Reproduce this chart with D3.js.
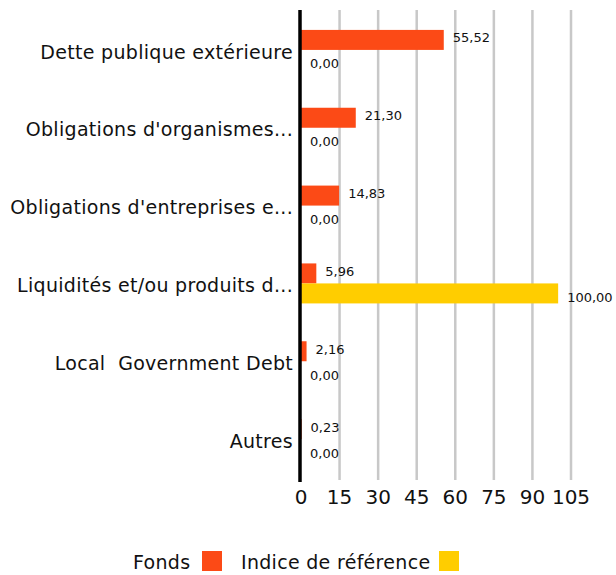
<!DOCTYPE html>
<html><head><meta charset="utf-8">
<script src="https://cdn.jsdelivr.net/npm/d3@7"></script>
<style>body{margin:0;background:#fff;} text{font-family:"DejaVu Sans",sans-serif;fill:#111;white-space:pre;}</style>
</head><body><svg id="c" width="616" height="575"></svg>
<script>
const categories = ["Dette publique extérieure","Obligations d'organismes...","Obligations d'entreprises e...","Liquidités et/ou produits d...","Local  Government Debt","Autres"];
const fonds = [55.52, 21.30, 14.83, 5.96, 2.16, 0.23];
const indice = [0.00, 0.00, 0.00, 100.00, 0.00, 0.00];
const ticks = [0,15,30,45,60,75,90,105];
const seriesNames = ["Fonds","Indice de référence"];
const colors = ["#fc4a16","#ffcd00"];

const svg = d3.select("#c");
const x = d3.scaleLinear().domain([0,105]).range([301,571]);
const y = d3.scaleBand().domain(categories).range([13,480]);
const fmt = v => d3.format(".2f")(v).replace(".", ",");

svg.append("g").selectAll("line").data(ticks.slice(1)).join("line")
  .attr("x1",d=>x(d)).attr("x2",d=>x(d)).attr("y1",10).attr("y2",480)
  .attr("stroke","#c8c8c8").attr("stroke-width",2.5);

const barH = 20;
const series = [fonds, indice];
series.forEach((vals,si)=>{
  const g = svg.append("g");
  g.selectAll("rect").data(categories).join("rect")
    .attr("x",x(0)).attr("y",d=>y(d)+y.bandwidth()/2 - barH + si*barH - 2)
    .attr("width",(d,i)=>x(vals[i])-x(0)).attr("height",barH).attr("fill",colors[si]);
  g.selectAll("text").data(categories).join("text")
    .attr("x",(d,i)=>x(vals[i])+9)
    .attr("y",(d,i)=>y(d)+y.bandwidth()/2 - barH/2 + si*barH - 2 + (si?4:-2))
    .attr("dy","0.35em").attr("font-size",13)
    .text((d,i)=>fmt(vals[i]));
});

svg.append("g").selectAll("text").data(categories).join("text")
  .attr("x",293).attr("y",d=>y(d)+y.bandwidth()/2).attr("dy","0.35em")
  .attr("text-anchor","end").attr("font-size",19).attr("letter-spacing",0.3).text(d=>d);

svg.append("line").attr("x1",300).attr("x2",300).attr("y1",10).attr("y2",482)
  .attr("stroke","#000").attr("stroke-width",3.5);

svg.append("g").selectAll("text").data(ticks).join("text")
  .attr("x",d=>x(d)).attr("y",497).attr("dy","0.35em").attr("text-anchor","middle")
  .attr("font-size",20).text(d=>d);

const lg = svg.append("g");
lg.append("text").attr("x",133).attr("y",562).attr("dy","0.35em").attr("font-size",19).attr("letter-spacing",0.3).text(seriesNames[0]);
lg.append("rect").attr("x",202).attr("y",551).attr("width",20).attr("height",20).attr("fill",colors[0]);
lg.append("text").attr("x",241).attr("y",562).attr("dy","0.35em").attr("font-size",19).attr("letter-spacing",0.3).text(seriesNames[1]);
lg.append("rect").attr("x",439).attr("y",551).attr("width",20).attr("height",20).attr("fill",colors[1]);
</script></body></html>
